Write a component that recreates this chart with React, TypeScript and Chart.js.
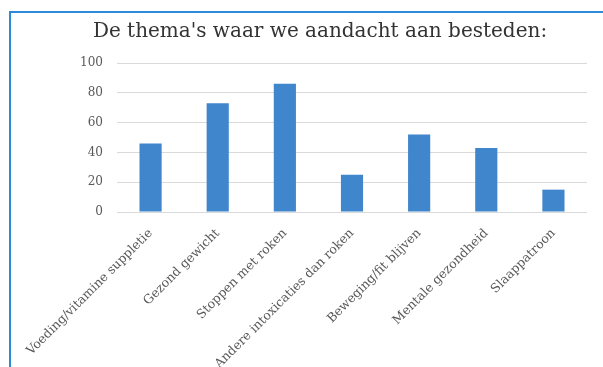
import React, { useEffect, useRef } from "react";
import { Chart, registerables } from "chart.js";

Chart.register(...registerables);

const categories = [
  "Voeding/vitamine suppletie",
  "Gezond gewicht",
  "Stoppen met roken",
  "Andere intoxicaties dan roken",
  "Beweging/fit blijven",
  "Mentale gezondheid",
  "Slaappatroon",
];
const values = [46, 73, 86, 25, 52, 43, 15];
const titleText = "De thema's waar we aandacht aan besteden:";

export default function App() {
  const ref = useRef<HTMLCanvasElement | null>(null);

  useEffect(() => {
    if (!ref.current) return;
    const chart = new Chart(ref.current, {
      type: "bar",
      data: {
        labels: categories,
        datasets: [
          {
            data: values,
            backgroundColor: "#3f86cc",
            borderWidth: 0,
            barPercentage: 0.66,
            categoryPercentage: 0.5,
          },
        ],
      },
      options: {
        responsive: false,
        animation: false,
        layout: { padding: { left: 53, right: 16, top: 8, bottom: 0 } },
        plugins: {
          legend: { display: false },
          tooltip: { enabled: false },
          title: {
            display: true,
            text: titleText,
            color: "#333333",
            font: { family: "DejaVu Serif", size: 20, weight: "normal" },
            padding: { top: 12, bottom: 19 },
          },
        },
        scales: {
          y: {
            min: 0,
            max: 100,
            ticks: {
              stepSize: 20,
              color: "#595959",
              font: { family: "DejaVu Serif", size: 12 },
              padding: 14,
            },
            grid: { color: "#d9d9d9", drawTicks: false, lineWidth: 1 },
            border: { display: false },
            afterFit: (s: any) => {
              s.width = 64;
            },
          },
          x: {
            ticks: {
              color: "#595959",
              font: { family: "DejaVu Serif", size: 12.5 },
              minRotation: 45,
              maxRotation: 45,
              autoSkip: false,
              padding: 14,
            },
            grid: { display: false, drawTicks: false },
            border: { display: false },
            afterFit: (s: any) => {
              s.height = 155;
            },
          },
        },
      },
    });
    return () => chart.destroy();
  }, []);

  return (
    <div style={{ position: "fixed", left: 0, top: 0, width: 603, height: 367, overflow: "hidden", background: "#fff" }}>
      <div
        style={{
          position: "absolute",
          left: 9,
          top: 11,
          width: 700,
          height: 500,
          borderLeft: "2px solid #2e8ad6",
          borderTop: "2px solid #2e8ad6",
        }}
      />
      <canvas ref={ref} width={603} height={367} style={{ position: "absolute", left: 0, top: 0 }} />
    </div>
  );
}
